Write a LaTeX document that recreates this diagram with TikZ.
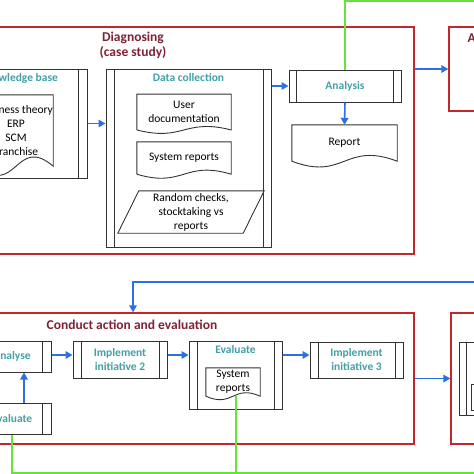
\documentclass[tikz,border=0pt]{standalone}
\usepackage{fontspec}
\setmainfont{Carlito}
\usetikzlibrary{calc,positioning,arrows.meta}
\definecolor{stagered}{HTML}{C1272D}
\definecolor{titlered}{HTML}{7E2335}
\definecolor{tealtxt}{HTML}{43A0A6}
\definecolor{flowblue}{HTML}{2D6FE4}
\definecolor{fbgreen}{HTML}{66E23A}
\tikzset{stage/.style={rectangle,draw=stagered,line width=1.3pt},
  stagetitle/.style={text=titlered,font=\fontsize{13.5}{15}\selectfont\bfseries,align=center},
  proc/.style={rectangle,draw=black!80,line width=1pt,text=tealtxt,align=center,inner sep=0pt,
    font=\fontsize{11.5}{14}\selectfont\bfseries},
  ptitle/.style={text=tealtxt,font=\fontsize{11.5}{14}\selectfont\bfseries},
  doc/.style={align=center,inner sep=0pt,font=\fontsize{11.5}{14}\selectfont},
  flow/.style={->,draw=flowblue,line width=1.6pt},
  fb/.style={draw=fbgreen,line width=1.8pt}}
% side bars of a predefined process box
\newcommand{\procbars}[2]{%
  \draw[line width=1pt,draw=black!80] ([xshift=#2]#1.north west) -- ([xshift=#2]#1.south west)
    ([xshift=-#2]#1.north east) -- ([xshift=-#2]#1.south east);}
% document outline with wavy bottom
\newcommand{\docframe}[2]{%
  \draw[line width=0.9pt,draw=black!80] (#1.south west) -- (#1.north west) -- (#1.north east) -- (#1.south east)
    .. controls ($(#1.south west)!0.5!(#1.south east)+(0,-#2)$) and ($(#1.south west)!0.5!(#1.south east)+(0,#2)$) .. (#1.south west);}
% slanted data box
\newcommand{\slantframe}[2]{%
  \draw[line width=0.9pt,draw=black!80] ([xshift=-#2]#1.south west) -- ([xshift=-#2]#1.south east)
    -- ([xshift=#2]#1.north east) -- ([xshift=#2]#1.north west) -- cycle;}

\begin{document}
\begin{tikzpicture}[x=1pt,y=-1pt,>={Triangle[length=7pt,width=7.5pt]}]
    \useasboundingbox (0,0) rectangle (474,474);
    \fill[white] (0,0) rectangle (474,474);
    \clip (0,0) rectangle (474,474);

    % stages
    \node[stage,minimum width=562,minimum height=227] (diag)at (133,140.5) {};
    \node[stagetitle] (diagt)at (133,45.5) {Diagnosing\\(case study)};
    \node[stage,minimum width=150,minimum height=84] (plan)at (524,69) {};
    \node[stagetitle,anchor=west] (plant)at (464,38) {A};
    \node[stage,minimum width=562,minimum height=131] (act)at (133,378.5) {};
    \node[stagetitle] (actt)at (132,325) {Conduct action and evaluation};
    \node[stage,minimum width=150,minimum height=131] (nxt)at (526,378.5) {};

    % diagnosing
    \node[proc,minimum width=136,minimum height=109] (kb)at (19,123.5) {};
    \procbars{kb}{9}
    \node[ptitle,below=1pt of kb.north] (kbt) {Knowledge base};
    \node[doc,minimum width=74,minimum height=71] (kbdoc)at (16,130.5) {Business theory\\ERP\\SCM\\Franchise};
    \docframe{kbdoc}{32}
    \node[proc,minimum width=165,minimum height=178] (dc)at (188.5,158) {};
    \procbars{dc}{8.5}
    \node[ptitle,below=1pt of dc.north] (dct) {Data collection};
    \node[doc,minimum width=94,minimum height=35.5] (userdoc)at (184,112) {User\\documentation};
    \docframe{userdoc}{12}
    \node[doc,minimum width=94,minimum height=32] (sysdoc)at (184,158) {System reports};
    \docframe{sysdoc}{14}
    \node[doc,minimum width=125,minimum height=42] (rand)at (191,212) {Random checks,\\stocktaking vs\\reports};
    \slantframe{rand}{10.5}
    \node[proc,minimum width=112,minimum height=32] (ana)at (345,86) {Analysis};
    \procbars{ana}{8}
    \node[doc,minimum width=105,minimum height=36] (rep)at (344.5,143) {Report};
    \docframe{rep}{20}

    % action and evaluation
    \node[proc,minimum width=78,minimum height=31] (aly)at (12,356.5) {Analyse};
    \procbars{aly}{9}
    \node[proc,minimum width=78,minimum height=31] (evl)at (12,418.5) {Evaluate};
    \procbars{evl}{9}
    \node[proc,minimum width=94,minimum height=37] (impl2)at (120,359.5) {Implement\\initiative 2};
    \procbars{impl2}{8.5}
    \node[proc,minimum width=93,minimum height=68] (evm)at (235.5,375) {};
    \procbars{evm}{8.5}
    \node[ptitle,below=1pt of evm.north] (evmt) {Evaluate};
    \node[doc,minimum width=54,minimum height=28] (evdoc)at (233,382) {System\\reports};
    \docframe{evdoc}{12}
    \node[proc,minimum width=93,minimum height=36] (impl3)at (356.5,360) {Implement\\initiative 3};
    \procbars{impl3}{8.5}
    \node[proc,minimum width=122,minimum height=73] (nproc)at (520,378.5) {};
    \procbars{nproc}{8}
    \node[rectangle,draw=black!80,line width=0.9pt,minimum width=40,minimum height=26] (ndoc)at (491,397.5) {};

    % blue flow
    \draw [flow] (kb.east) -- (kb.east -| dc.west);
    \draw [flow] (dc.east |- ana.west) -- (ana.west);
    \draw [flow] (ana.south) -- (rep.north);
    \draw [flow] (diag.east |- plan.west) -- (plan.west);
    \coordinate (btop)at (480,282);
    \draw [flow] (btop) -| (act.north);
    \draw [flow] ([xshift=12]evl.north) -- ([xshift=12]aly.south);
    \draw [flow] ([yshift=1.5]aly.east) -- ([yshift=1.5]aly.east -| impl2.west);
    \draw [flow] ([yshift=1.5]aly.east -| impl2.east) -- ([yshift=1.5]aly.east -| evm.west);
    \draw [flow] ([yshift=1.5]aly.east -| evm.east) -- ([yshift=1.5]aly.east -| impl3.west);
    \draw [flow] (act.east) -- (nxt.west);

    % green feedback
    \coordinate (gtop)at (480,1);
    \draw [fb] (ana.north) |- (gtop);
    \coordinate (gbot)at (480,473);
    \draw [fb] (evl.south) |- (gbot);
    \draw [fb] ([xshift=3]evdoc.south) -- ([xshift=3]evdoc.south |- gbot);
\end{tikzpicture}
\end{document}
